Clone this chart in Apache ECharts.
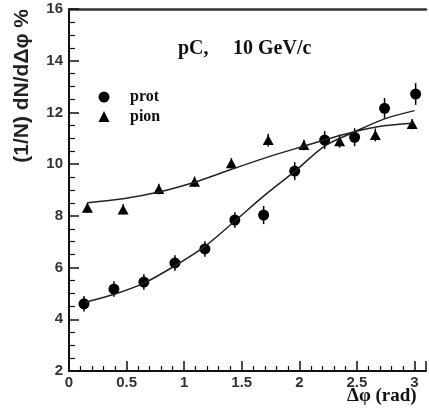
<!DOCTYPE html>
<html>
<head>
<meta charset="utf-8">
<script src="https://cdn.jsdelivr.net/npm/echarts@6/dist/echarts.min.js"></script>
<style>
  html, body { margin: 0; padding: 0; background: #fff; }
  #chart { width: 429px; height: 414px; }
</style>
</head>
<body>
<div id="chart"></div>
<script>
// measured points
const protX = [0.13, 0.39, 0.65, 0.92, 1.18, 1.44, 1.69, 1.96, 2.22, 2.48, 2.74, 3.01];
const protY = [4.60, 5.17, 5.44, 6.18, 6.72, 7.84, 8.03, 9.73, 10.93, 11.04, 12.16, 12.71];
const protErr = [0.3, 0.3, 0.3, 0.3, 0.3, 0.3, 0.35, 0.35, 0.35, 0.35, 0.4, 0.42];

const pionX = [0.16, 0.47, 0.78, 1.09, 1.41, 1.73, 2.04, 2.35, 2.66, 2.98];
const pionY = [8.31, 8.25, 9.04, 9.32, 10.03, 10.93, 10.74, 10.89, 11.13, 11.55];
const pionErr = [0.2, 0.2, 0.2, 0.2, 0.2, 0.25, 0.2, 0.25, 0.25, 0.2];

// fitted curves
const protFitX = [0.14, 0.40, 0.66, 0.92, 1.18, 1.44, 1.70, 1.96, 2.22, 2.48, 2.74, 3.00];
const protFitY = [4.66, 4.98, 5.42, 6.07, 6.82, 7.80, 8.80, 9.72, 10.70, 11.25, 11.75, 12.07];
const pionFitX = [0.16, 0.47, 0.78, 1.09, 1.40, 1.73, 2.05, 2.36, 2.68, 2.99];
const pionFitY = [8.51, 8.66, 8.92, 9.30, 9.78, 10.28, 10.71, 11.12, 11.45, 11.58];

const xTicks = [0, 0.5, 1, 1.5, 2, 2.5, 3];

const zip = (a, b) => a.map((v, i) => [v, b[i]]);
const errData = (xs, ys, es) => xs.map((v, i) => [v, ys[i] - es[i], ys[i] + es[i]]);

function errBar(params, api) {
  const lo = api.coord([api.value(0), api.value(1)]);
  const hi = api.coord([api.value(0), api.value(2)]);
  return {
    type: 'line',
    shape: { x1: lo[0], y1: lo[1], x2: hi[0], y2: hi[1] },
    style: { stroke: '#000', lineWidth: 1.5 }
  };
}

const labelFont = { color: '#333', fontFamily: 'Liberation Sans', fontWeight: 'bold', fontSize: 15 };
const serifBold = { fontFamily: 'Liberation Serif', fontWeight: 'bold', fill: '#111' };

const option = {
  animation: false,
  grid: { left: 69, top: 9, right: 0, bottom: 43 },
  xAxis: [{
    type: 'value', min: 0, max: 3.1, interval: 0.5,
    axisLine: { lineStyle: { color: '#111', width: 2 } },
    axisTick: { inside: true, length: 10, lineStyle: { color: '#111', width: 1.5 } },
    minorTick: { show: true, splitNumber: 5, length: 5, lineStyle: { color: '#111', width: 1.2 } },
    splitLine: { show: false },
    axisLabel: Object.assign({ margin: 4, formatter: v => xTicks.includes(v) ? String(v) : '' }, labelFont)
  }, {
    type: 'value', position: 'top', min: 0, max: 3.1,
    axisLine: { lineStyle: { color: '#333', width: 2.5 } },
    axisTick: { show: false }, axisLabel: { show: false }, splitLine: { show: false }
  }],
  yAxis: {
    type: 'value', min: 2, max: 16, interval: 2,
    axisLine: { lineStyle: { color: '#111', width: 2 } },
    axisTick: { inside: true, length: 10, lineStyle: { color: '#111', width: 1.5 } },
    minorTick: { show: true, splitNumber: 4, length: 6, lineStyle: { color: '#111', width: 1.2 } },
    splitLine: { show: false },
    axisLabel: Object.assign({ margin: 6 }, labelFont)
  },
  series: [
    { type: 'line', data: zip(protFitX, protFitY), smooth: 0.3, showSymbol: false,
      lineStyle: { color: '#222', width: 1.5 } },
    { type: 'line', data: zip(pionFitX, pionFitY), smooth: 0.3, showSymbol: false,
      lineStyle: { color: '#222', width: 1.5 } },
    { type: 'custom', renderItem: errBar, data: errData(protX, protY, protErr) },
    { type: 'custom', renderItem: errBar, data: errData(pionX, pionY, pionErr) },
    { name: 'prot', type: 'scatter', data: zip(protX, protY), symbol: 'circle', symbolSize: 11,
      itemStyle: { color: '#000', opacity: 1 } },
    { name: 'pion', type: 'scatter', data: zip(pionX, pionY), symbol: 'triangle', symbolSize: [11, 10],
      itemStyle: { color: '#000', opacity: 1 } }
  ],
  graphic: [
    { type: 'text', x: 22, y: 9, rotation: Math.PI / 2, originX: 0, originY: 0,
      style: { text: '(1/N) dN/dΔφ %', font: 'bold 21px "Liberation Sans"', fill: '#222',
        align: 'right', verticalAlign: 'middle' } },
    { type: 'text', x: 178, y: 49, style: Object.assign({ text: 'pC,', fontSize: 20,
        align: 'left', verticalAlign: 'middle' }, serifBold) },
    { type: 'text', x: 233, y: 49, style: Object.assign({ text: '10 GeV/c', fontSize: 20,
        align: 'left', verticalAlign: 'middle' }, serifBold) },
    { type: 'circle', shape: { cx: 104, cy: 97, r: 5.5 }, style: { fill: '#000' } },
    { type: 'polygon', shape: { points: [[104, 111], [98.5, 122], [109.5, 122]] }, style: { fill: '#000' } },
    { type: 'text', x: 130, y: 97, style: Object.assign({ text: 'prot', fontSize: 16,
        align: 'left', verticalAlign: 'middle' }, serifBold) },
    { type: 'text', x: 130, y: 117, style: Object.assign({ text: 'pion', fontSize: 16,
        align: 'left', verticalAlign: 'middle' }, serifBold) },
    { type: 'text', x: 347, y: 396, style: Object.assign({ text: 'Δφ (rad)', fontSize: 19,
        align: 'left', verticalAlign: 'middle' }, serifBold) }
  ]
};

echarts.init(document.getElementById('chart')).setOption(option);
</script>
</body>
</html>
